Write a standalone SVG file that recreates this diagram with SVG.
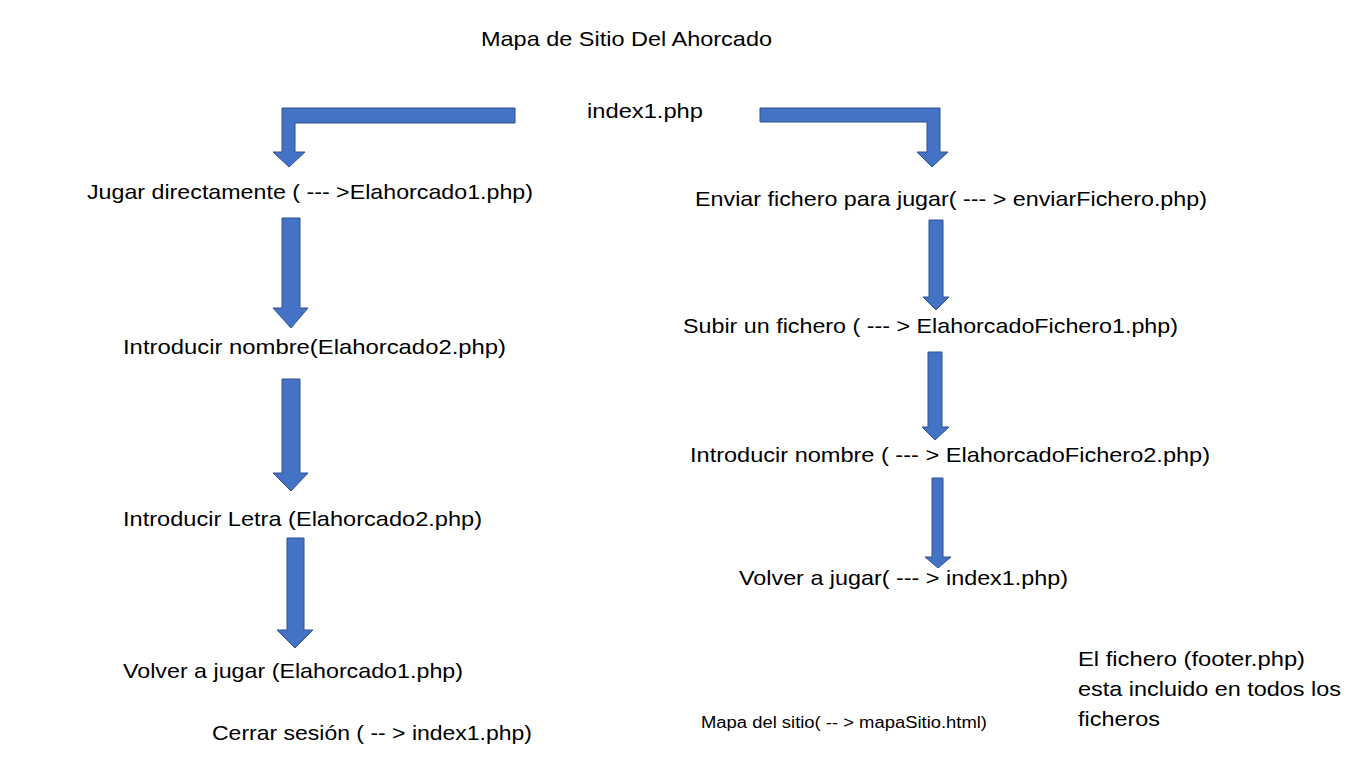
<svg xmlns="http://www.w3.org/2000/svg" width="1350" height="758" viewBox="0 0 1350 758">
<style>
.t{font-family:"Liberation Sans",Arial,sans-serif;font-size:21px;fill:#000}
.s{font-family:"Liberation Sans",Arial,sans-serif;font-size:16px;fill:#000}
.a{fill:#4472C4;stroke:#2F528F;stroke-width:1}
</style>
<rect width="1350" height="758" fill="#fff"/>
<g id="connectors">
<path class="a" d="M515,108 L282,108 L282,152 L273,152 L289,167 L305,152 L295,152 L295,123 L515,123 Z"/>
<path class="a" d="M760,108 L940,108 L940,152 L948,152 L932,167 L917,152 L927,152 L927,122 L760,122 Z"/>
<path class="a" d="M282,218 L300,218 L300,308 L308,308 L291,328 L273,308 L282,308 Z"/>
<path class="a" d="M282,379 L300,379 L300,473 L308,473 L291,491 L273,473 L282,473 Z"/>
<path class="a" d="M287,538 L304,538 L304,630 L313,630 L295,648 L277,630 L287,630 Z"/>
<path class="a" d="M929,220 L943,220 L943,297 L949,297 L936,310 L923,297 L929,297 Z"/>
<path class="a" d="M928,352 L942,352 L942,427 L949,427 L935,440 L922,427 L928,427 Z"/>
<path class="a" d="M932,478 L943,478 L943,557 L951,557 L938,568 L925,557 L932,557 Z"/>
</g>
<g id="title"><text class="t" x="481" y="46" textLength="291" lengthAdjust="spacingAndGlyphs">Mapa de Sitio Del Ahorcado</text></g>
<g id="index"><text class="t" x="587" y="118" textLength="116" lengthAdjust="spacingAndGlyphs">index1.php</text></g>
<g id="jugar"><text class="t" x="87" y="199" textLength="446" lengthAdjust="spacingAndGlyphs">Jugar directamente ( --- &gt;Elahorcado1.php)</text></g>
<g id="enviar"><text class="t" x="695" y="206" textLength="512" lengthAdjust="spacingAndGlyphs">Enviar fichero para jugar( --- &gt; enviarFichero.php)</text></g>
<g id="nombre1"><text class="t" x="123" y="354" textLength="383" lengthAdjust="spacingAndGlyphs">Introducir nombre(Elahorcado2.php)</text></g>
<g id="subir"><text class="t" x="683" y="333" textLength="495" lengthAdjust="spacingAndGlyphs">Subir un fichero ( --- &gt; ElahorcadoFichero1.php)</text></g>
<g id="nombre2"><text class="t" x="690" y="462" textLength="520" lengthAdjust="spacingAndGlyphs">Introducir nombre ( --- &gt; ElahorcadoFichero2.php)</text></g>
<g id="letra"><text class="t" x="123" y="526" textLength="359" lengthAdjust="spacingAndGlyphs">Introducir Letra (Elahorcado2.php)</text></g>
<g id="volver2"><text class="t" x="739" y="585" textLength="329" lengthAdjust="spacingAndGlyphs">Volver a jugar( --- &gt; index1.php)</text></g>
<g id="volver1"><text class="t" x="123" y="678" textLength="340" lengthAdjust="spacingAndGlyphs">Volver a jugar (Elahorcado1.php)</text></g>
<g id="cerrar"><text class="t" x="212" y="740" textLength="320" lengthAdjust="spacingAndGlyphs">Cerrar sesión ( -- &gt; index1.php)</text></g>
<g id="mapa"><text class="s" x="701" y="728" textLength="286" lengthAdjust="spacingAndGlyphs">Mapa del sitio( -- &gt; mapaSitio.html)</text></g>
<g id="footer">
<text class="t" x="1078" y="666" textLength="227" lengthAdjust="spacingAndGlyphs">El fichero (footer.php)</text>
<text class="t" x="1078" y="696" textLength="263" lengthAdjust="spacingAndGlyphs">esta incluido en todos los</text>
<text class="t" x="1078" y="726" textLength="82" lengthAdjust="spacingAndGlyphs">ficheros</text>
</g>
</svg>
